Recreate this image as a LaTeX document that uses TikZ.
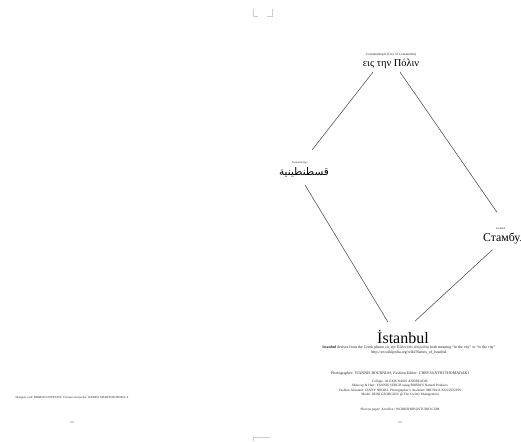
\documentclass[tikz,border=0pt]{standalone}
\usepackage{fontspec}
\setmainfont{Liberation Serif}
\newfontfamily\arabicfont[Script=Arabic]{DejaVu Sans}
\TeXXeTstate=1
\usetikzlibrary{positioning}
\tikzset{
  link/.style={line width=0.55pt,black!70},
  tinytxt/.style={font=\fontsize{2.8}{3.2}\selectfont,text=black!85,inner sep=0.5pt,align=center},
  notetxt/.style={font=\fontsize{3.9}{4.4}\selectfont,text=black!85,inner sep=0.5pt,align=center},
  credtxt/.style={font=\fontsize{3.4}{4.5}\selectfont,text=black!85,inner sep=0.5pt,align=center},
  bigtxt/.style={font=\fontsize{10.5}{12}\selectfont,inner sep=1pt},
  pgno/.style={font=\fontsize{3}{3.6}\selectfont,text=black!60,inner sep=0.5pt},
  gutter/.style={line width=0.4pt,black!20},
}

\begin{document}
\begin{tikzpicture}[x=1pt,y=-1pt]
  \useasboundingbox (0,0) rectangle (521,441);
  \fill[white] (0,0) rectangle (521,441);
  % gutter marks
  \draw[gutter] (253,9)--(253,16)--(258,16);
  \draw[gutter] (267,16)--(272,16)--(272,9);
  \draw[gutter] (253,441)--(253,437)--(270,437);
  % names of the city
  \node[tinytxt,font=\fontsize{3.4}{4}\selectfont] (topsmall) at (391,55) {Constantinople (City of Constantine)};
  \node[bigtxt] (topbig) at (391,64) {εις την Πόλιν};
  \node[tinytxt] (leftsmall) at (300,163) {Kostantiniyye};
  \node[bigtxt] (leftbig) at (304,172) {\arabicfont\beginR قسطنطينية\endR};
  \node[tinytxt] (rightsmall) at (501,229) {Istanbul};
  \node[bigtxt,font=\fontsize{11.8}{13}\selectfont,anchor=west] (rightbig) at (482,239) {Стамбул};
  \node[font=\fontsize{16}{18}\selectfont,inner sep=1pt] (bottombig) at (403,337) {İstanbul};
  % connectors
  \draw[link] ([shift={(-18,2)}]topbig.south) -- ([shift={(12,-11)}]leftsmall.north);
  \draw[link] ([shift={(9,2)}]topbig.south) -- ([shift={(-4,-15)}]rightsmall.north);
  \draw[link] ([shift={(1,7)}]leftbig.south) -- ([shift={(-15,-7)}]bottombig.north);
  \draw[link] ([shift={(-12,4)}]rightbig.south) -- ([shift={(12,-8)}]bottombig.north);
  % notes and credits
  \node[notetxt] (bottomnote) at (409,350)
    {\textbf{Istanbul} derives from the Greek phrase εἰς τὴν Πόλιν (eis tēn polin) both meaning “in the city” or “to the city”\\
     http://en.wikipedia.org/wiki/Names\_of\_Istanbul};
  \node[notetxt] (photo) at (400,374)
    {Photographer: YIANNIS BOURNIAS, Fashion Editor: CHRYSANTHI THOMADAKI};
  \node[credtxt] (staff) at (400,388)
    {Collage: ALEXIS BASIS ANDREADIS\\
     Make up \& Hair: YANNIS SERGIS using BOBBI'S Natural Products\\
     Fashion Assistant: JENNY NIKOLI, Photographer's Assistant: MICHAIL KOUZOUPIS\\
     Model: IRINI GEORGIOU @ The Society Management};
  \node[credtxt] (paper) at (400,410) {Shot on paper: Arcoflex / WORKSHOP@STUDIO.COM};
  \node[credtxt,font=\fontsize{3}{3.6}\selectfont] (leftcred) at (72,398)
    {Designer card: BRIDGES EDITIONS, Trousers and jacket: HARRIS MARTIN BORDELLA};
  \node[pgno] (pgleft) at (72,423) {- 68 -};
  \node[pgno] (pgright) at (400,423) {- 69 -};
\end{tikzpicture}
\end{document}
